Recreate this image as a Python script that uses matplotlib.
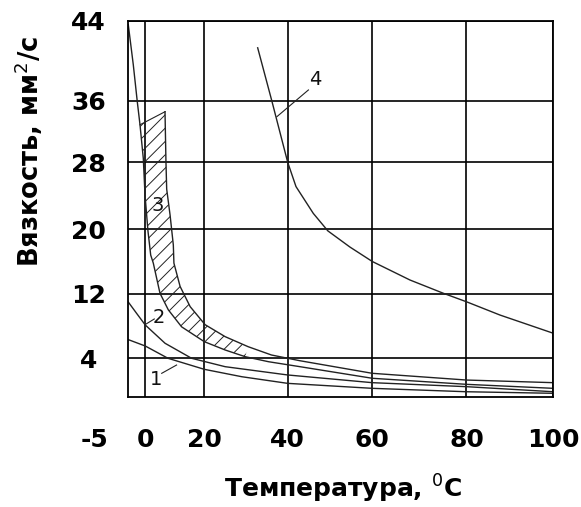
import numpy as np
import matplotlib
matplotlib.use("Agg")
import matplotlib.pyplot as plt

DPI = 80
K = 100.0 / DPI  # keeps sizes as if drawn at 100 dpi

plt.rcParams['font.family'] = ['DejaVu Sans']
plt.rcParams['mathtext.fontset'] = 'dejavusans'
plt.rcParams['mathtext.default'] = 'rm'
plt.rcParams['hatch.linewidth'] = 0.7 * K

# ---------------- data ----------------
x_ticks = [0, 20, 40, 60, 80, 100]
x_tick_labels = ['0', '20', '40', '60', '80', '100']
y_ticks = [4, 12, 20, 28, 36, 44]
y_tick_labels = ['4', '12', '20', '28', '36', '44']

# the original chart has an uneven graduation; anchors of that scale
x_scale_values = [-5, 0, 20, 40, 60, 80, 100]
x_scale_pos = [0.0, 17.8, 76.8, 160.2, 244.8, 339.0, 425.8]
y_scale_values = [0, 4, 12, 20, 28, 36, 44]
y_scale_pos = [0.0, 39.0, 103.6, 168.0, 235.0, 296.3, 376.6]

# curve 1
c1_t = [-5, 0, 7.7, 20, 29, 40, 60, 80, 100]
c1_v = [6.35, 5.52, 4.0, 2.87, 2.11, 1.43, 0.92, 0.57, 0.41]
# curve 2
c2_t = [-5, -2.5, 0, 6.7, 15.7, 25, 40, 60, 80, 100]
c2_v = [11.1, 9.6, 8.12, 5.86, 4.0, 3.14, 2.29, 1.5, 1.09, 0.57]
# curve 3 - lower boundary of the band
c3a_t = [-4.78, -3.37, -2.25, -1.49, -0.56, -0.08, 0.9, 1.83, 2.71, 4.98, 7.8,
         12.3, 20, 25, 29.8, 35.4, 42.9, 60, 80, 100]
c3a_v = [43.6, 39.6, 35.9, 32.9, 28.5, 24.1, 19.8, 16.8, 15.8, 12.05, 10.0,
         7.9, 6.06, 5.03, 4.2, 3.65, 3.14, 1.95, 1.33, 0.92]
# curve 3 - upper boundary of the band
c3b_t = [6.68, 7.0, 7.25, 8.4, 8.95, 9.5, 9.7, 11.8, 15.2, 20.2, 25.0, 30.5,
         36.1, 42.9, 60, 80, 100]
c3b_v = [34.6, 28.1, 24.8, 21.7, 19.9, 18.05, 15.8, 12.9, 10.4, 8.16, 6.68,
         5.44, 4.41, 3.75, 2.46, 1.77, 1.5]
band_t_min = -1.49
band_t_max = 30.5
# curve 4
c4_t = [32.8, 36.2, 40.0, 41.96, 46.05, 49.5, 54.7, 60, 68.0, 75.1, 80, 87.7, 100]
c4_v = [41.3, 36.0, 28.0, 25.1, 21.9, 19.8, 17.8, 16.0, 13.7, 12.05, 11.0, 9.36, 7.1]

# curve numbers and their leader lines
lbl_text = ['1', '2', '3', '4']
lbl_t = [3.7, 4.7, 4.3, 46.5]
lbl_v = [1.86, 9.1, 22.9, 38.1]
lead_t = [[5.56, 10.6], [-0.1, 3.05], None, [37.4, 44.9]]
lead_v = [[2.46, 3.31], [8.16, 8.87], None, [33.95, 37.1]]

x_title = 'Температура, $^{0}$C'
y_title = 'Вязкость, мм$^{2}$/с'


def piecewise(vals, pos):
    vals = np.asarray(vals, float)
    pos = np.asarray(pos, float)

    def conv(v, a, b):
        v = np.asarray(v, float)
        out = np.interp(v, a, b)
        lo_s = (b[1] - b[0]) / (a[1] - a[0])
        hi_s = (b[-1] - b[-2]) / (a[-1] - a[-2])
        out = np.where(v < a[0], b[0] + (v - a[0]) * lo_s, out)
        out = np.where(v > a[-1], b[-1] + (v - a[-1]) * hi_s, out)
        return out

    return (lambda v: conv(v, vals, pos)), (lambda p: conv(p, pos, vals))


W, H = 581, 507
fig = plt.figure(figsize=(W / DPI, H / DPI), dpi=DPI)
ax = fig.add_axes([127.5 / W, (H - 397.3) / H, (553.3 - 127.5) / W, (397.3 - 20.7) / H])

ax.set_xscale('function', functions=piecewise(x_scale_values, x_scale_pos))
ax.set_yscale('function', functions=piecewise(y_scale_values, y_scale_pos))
ax.set_xlim(-5, 100)
ax.set_ylim(0, 44)

tick_fs = 18.0 * K
ax.set_xticks(x_ticks)
ax.set_xticklabels(x_tick_labels, fontsize=tick_fs, fontweight='bold')
ax.set_yticks(y_ticks)
ax.set_yticklabels(y_tick_labels, fontsize=tick_fs, fontweight='bold', ha='center')
ax.tick_params(axis='x', length=0, pad=22 * K)
ax.tick_params(axis='y', length=0, pad=28 * K)
ax.minorticks_off()
ax.grid(True, color='black', lw=1.2 * K)
ax.set_axisbelow(True)
for s in ax.spines.values():
    s.set_linewidth(1.3 * K)
    s.set_color('black')

ax.annotate('-5', xy=(-5, 0), xycoords=('data', 'axes fraction'),
            xytext=(-33.5, -30.6), textcoords='offset pixels',
            ha='center', va='top', fontsize=tick_fs, fontweight='bold')

lc = '#222222'
lw = 1.0 * K
ax.plot(c1_t, c1_v, color=lc, lw=lw)
ax.plot(c2_t, c2_v, color=lc, lw=lw)
ax.plot(c3a_t, c3a_v, color=lc, lw=lw)
ax.plot(c3b_t, c3b_v, color=lc, lw=lw)
ax.plot(c4_t, c4_v, color=lc, lw=lw)

# hatched band of curve 3
a_t = np.asarray(c3a_t); a_v = np.asarray(c3a_v)
b_t = np.asarray(c3b_t); b_v = np.asarray(c3b_v)
ma = (a_t >= band_t_min) & (a_t <= band_t_max)
mb = b_t <= band_t_max
poly_t = np.concatenate([a_t[ma], b_t[mb][::-1]])
poly_v = np.concatenate([a_v[ma], b_v[mb][::-1]])
ax.fill(poly_t, poly_v, facecolor='none', edgecolor=lc, lw=0, hatch='//')
# top edge of band
ax.plot([a_t[ma][0], b_t[mb][0]], [a_v[ma][0], b_v[mb][0]], color=lc, lw=0.8 * K)

for txt, t, v, lt, lv in zip(lbl_text, lbl_t, lbl_v, lead_t, lead_v):
    ax.text(t, v, txt, fontsize=14 * K, ha='center', va='center', color='#111111')
    if lt is not None:
        ax.plot(lt, lv, color=lc, lw=0.8 * K)

fig.text(343.5 / W, (H - 497.5) / H, x_title, fontsize=18 * K, fontweight='bold',
         ha='center', va='baseline')
fig.text(29 / W, (H - 151) / H, y_title, fontsize=18.5 * K, fontweight='bold',
         ha='center', va='center', rotation=90)

fig.savefig('out.png', dpi=DPI)
